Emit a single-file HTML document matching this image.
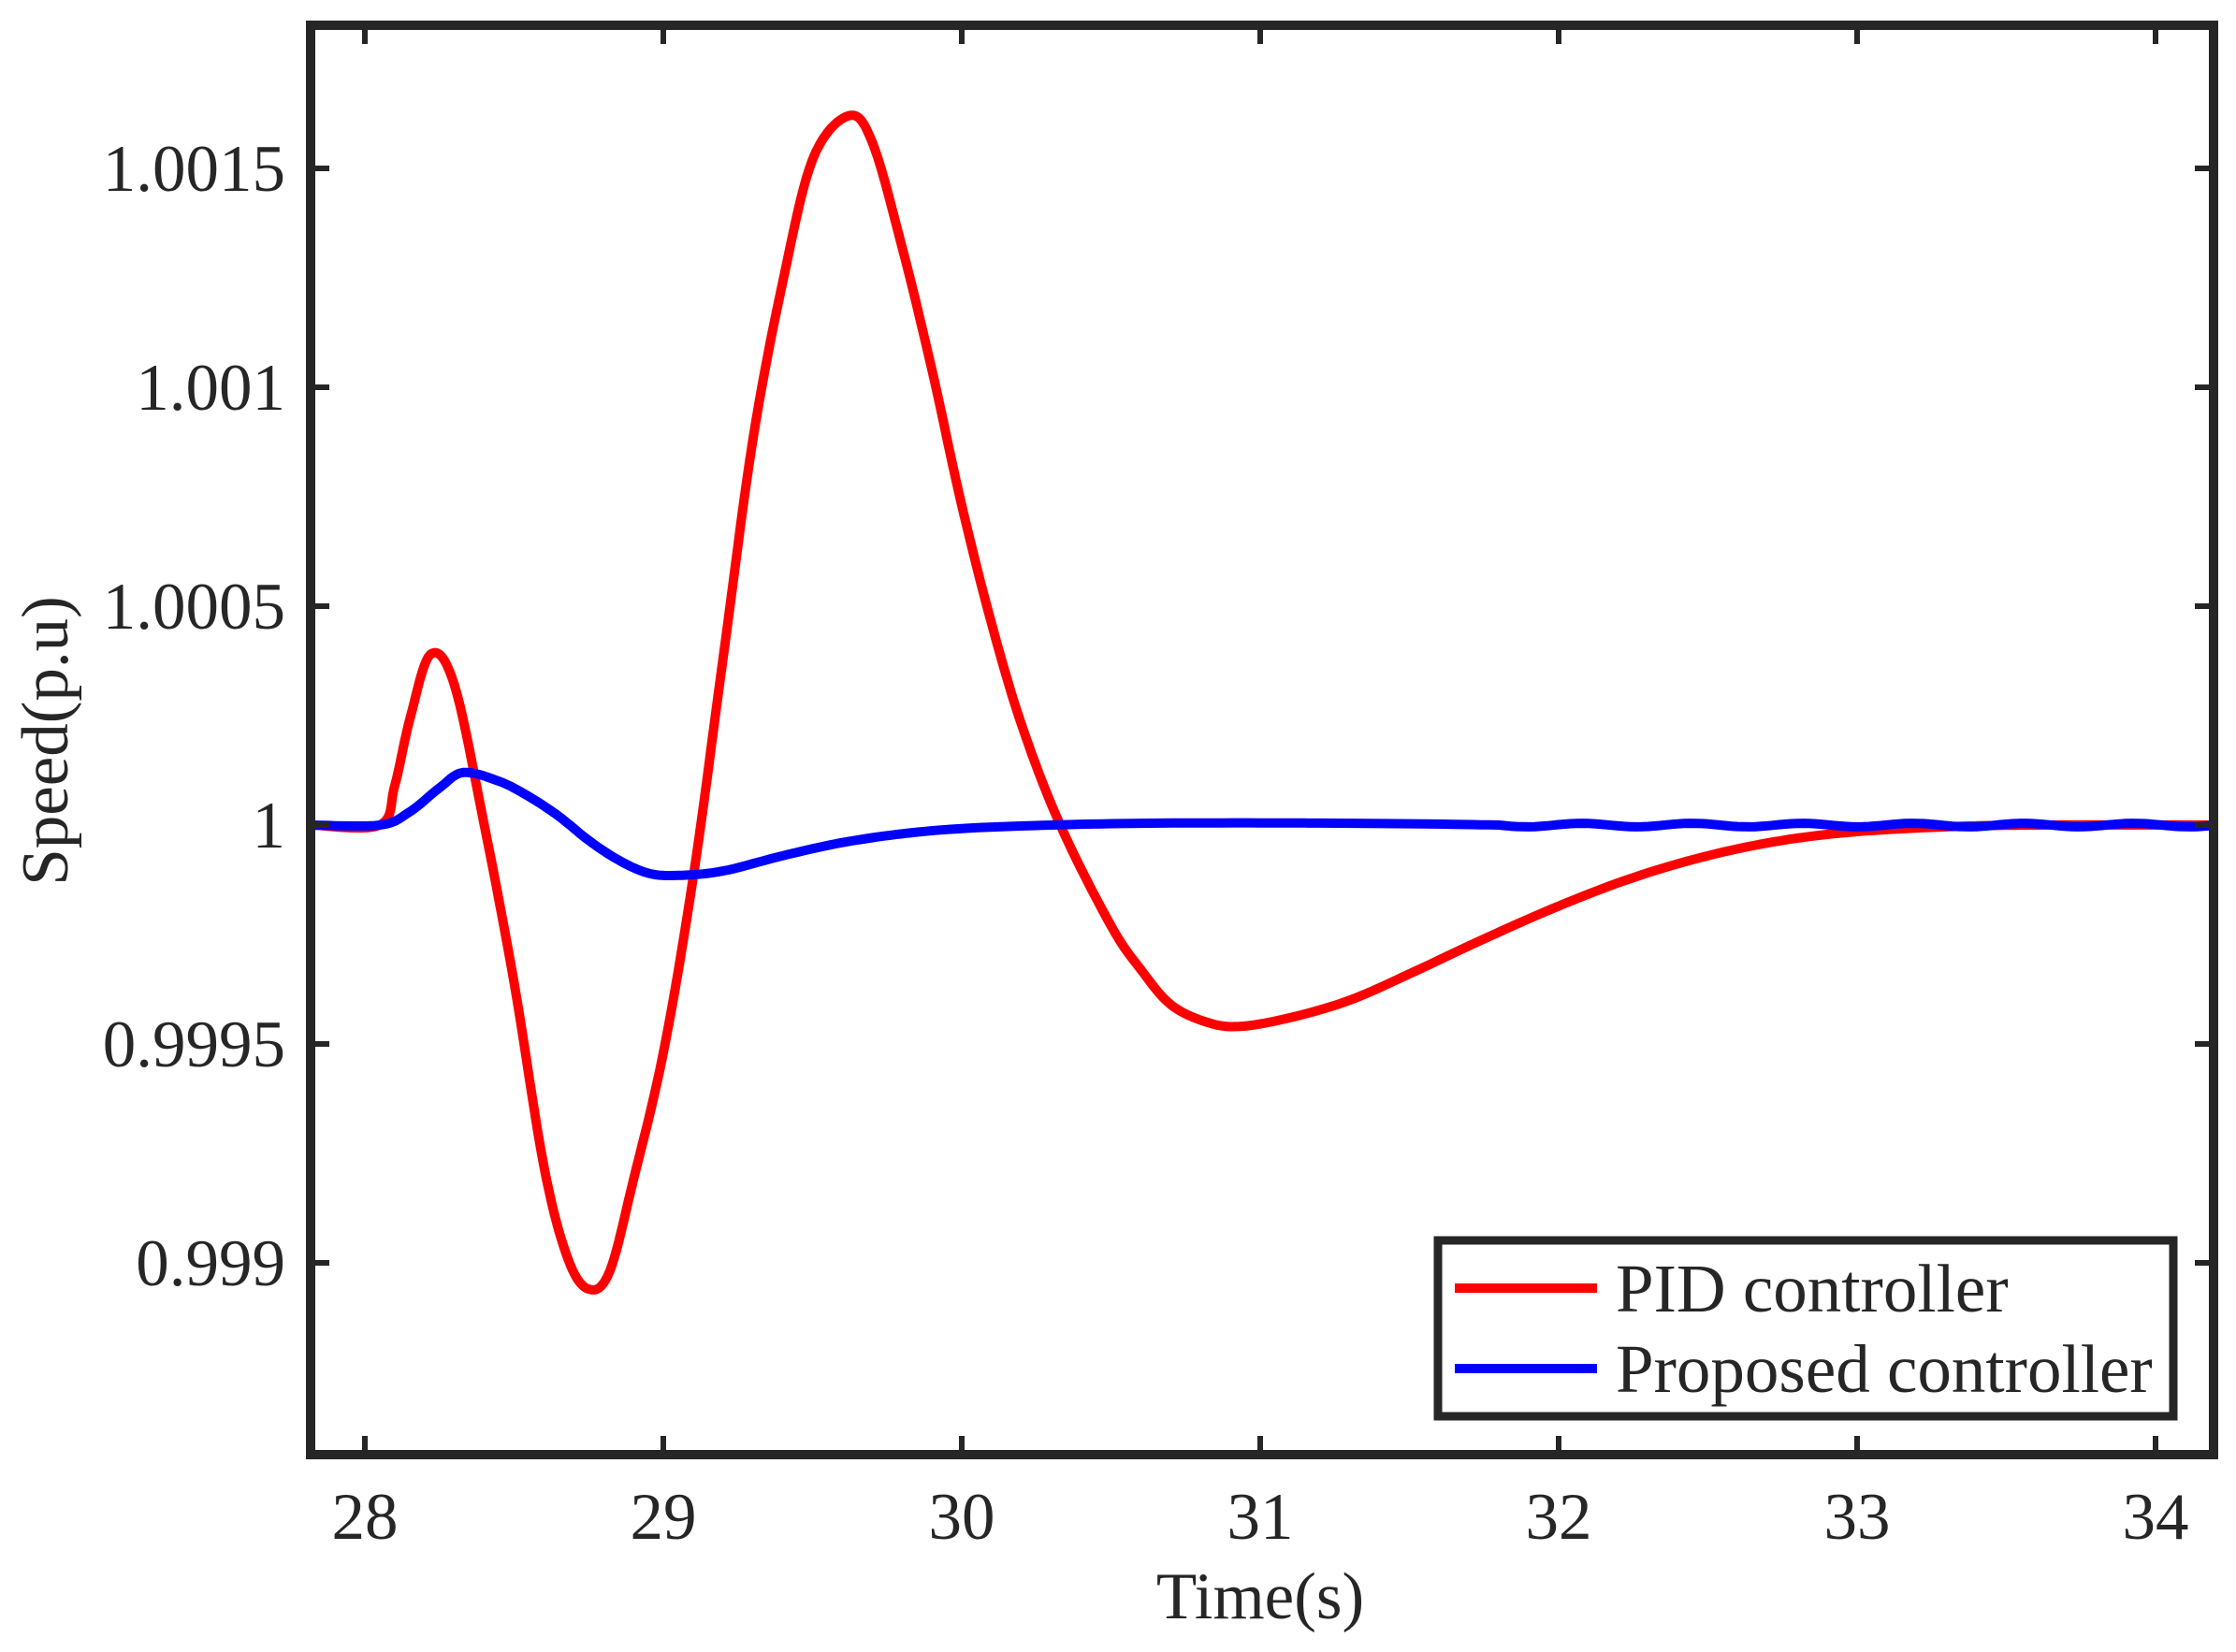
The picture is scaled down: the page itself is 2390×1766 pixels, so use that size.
<!DOCTYPE html>
<html><head><meta charset="utf-8"><style>
html,body{margin:0;padding:0;background:#fff;}
svg{display:block;}
text{font-family:"Liberation Serif",serif;fill:#262626;}
</style></head><body>
<svg id="s" width="2390" height="1766" viewBox="0 0 2390 1766" xmlns="http://www.w3.org/2000/svg">
<rect width="2390" height="1766" fill="#fff"/>
<g id="curves"></g>
<g stroke="#262626" stroke-width="6" fill="none">
<path d="M390,1555v-20M709,1555v-20M1028,1555v-20M1347,1555v-20M1666,1555v-20M1985,1555v-20M2304,1555v-20"/>
<path d="M390,27v20M709,27v20M1028,27v20M1347,27v20M1666,27v20M1985,27v20M2304,27v20"/>
<path d="M332,180h20M332,414h20M332,648h20M332,882h20M332,1116h20M332,1350h20"/>
<path d="M2366,180h-20M2366,414h-20M2366,648h-20M2366,882h-20M2366,1116h-20M2366,1350h-20"/>
</g>
<rect x="332" y="27" width="2034" height="1528" fill="none" stroke="#262626" stroke-width="10"/>
<g font-size="71" text-anchor="end">
<text x="305" y="204">1.0015</text>
<text x="305" y="438">1.001</text>
<text x="305" y="672">1.0005</text>
<text x="305" y="906">1</text>
<text x="305" y="1140">0.9995</text>
<text x="305" y="1374">0.999</text>
</g>
<g font-size="71" text-anchor="middle">
<text x="390" y="1645">28</text>
<text x="709" y="1645">29</text>
<text x="1028" y="1645">30</text>
<text x="1347" y="1645">31</text>
<text x="1666" y="1645">32</text>
<text x="1985" y="1645">33</text>
<text x="2304" y="1645">34</text>
<text x="1347" y="1730">Time(s)</text>
<text transform="translate(72,792) rotate(-90)">Speed(p.u)</text>
</g>
<rect x="1537" y="1326" width="786" height="188" fill="#fff" stroke="#262626" stroke-width="9"/>
<line x1="1555" y1="1377" x2="1707" y2="1377" stroke="#ff0000" stroke-width="10"/>
<line x1="1555" y1="1463" x2="1707" y2="1463" stroke="#0000ff" stroke-width="10"/>
<g font-size="73">
<text x="1727" y="1402">PID controller</text>
<text x="1727" y="1488">Proposed controller</text>
</g>
</svg>
<script>
function X(t){return 390+(t-28)*319;}
function Y(v){return 882-v*46.8;}
var red=[[27.82,0],[28.05,0],[28.1,0.9],[28.15,2.4],[28.22,3.9],[28.3,3.2],[28.4,0],[28.5,-3.6],[28.6,-7.8],[28.68,-9.9],[28.75,-10.6],[28.82,-10.2],[28.9,-8.1],[29.0,-5.2],[29.1,-1.2],[29.2,3.8],[29.3,8.8],[29.4,12.4],[29.5,15.2],[29.62,16.2],[29.7,15.6],[29.8,13.2],[29.9,10.4],[30.0,7.3],[30.1,4.6],[30.2,2.3],[30.33,0],[30.5,-2.3],[30.6,-3.3],[30.7,-4.1],[30.82,-4.5],[30.93,-4.6],[31.1,-4.4],[31.3,-4.0],[31.5,-3.4],[31.75,-2.6],[32.0,-1.85],[32.25,-1.2],[32.5,-0.7],[32.75,-0.35],[33.0,-0.15],[33.3,-0.04],[33.6,0],[34.19,0]];
var blue=[[27.82,0],[28.05,0],[28.15,0.3],[28.25,0.85],[28.33,1.2],[28.45,1.0],[28.55,0.65],[28.65,0.2],[28.75,-0.35],[28.85,-0.8],[28.95,-1.1],[29.05,-1.15],[29.2,-1.05],[29.4,-0.7],[29.6,-0.4],[29.8,-0.2],[30.0,-0.08],[30.3,0],[30.6,0.04],[31,0.05],[31.5,0.03],[31.8,0]];
function cr(p){var o=[];for(var i=0;i<p.length-1;i++){var a=p[Math.max(0,i-1)],b=p[i],c=p[i+1],d=p[Math.min(p.length-1,i+2)];for(var k=0;k<10;k++){var s=k/10,s2=s*s,s3=s2*s;function f(j){return 0.5*((2*b[j])+(-a[j]+c[j])*s+(2*a[j]-5*b[j]+4*c[j]-d[j])*s2+(-a[j]+3*b[j]-3*c[j]+d[j])*s3);}o.push([f(0),f(1)]);}}o.push(p[p.length-1]);return o;}
function path(pts){return pts.map(function(q,i){return (i?'L':'M')+X(q[0]).toFixed(1)+','+Y(q[1]).toFixed(1);}).join('');}
var bp=cr(blue);
for(var t=31.82;t<=34.19;t+=0.02){bp.push([t,-0.04*Math.sin((t-31.8)*2*Math.PI/0.37)]);}
var g=document.getElementById('curves');
g.innerHTML='<path d="'+path(cr(red))+'" fill="none" stroke="#ff0000" stroke-width="10" stroke-linejoin="round"/>'+
'<path d="'+path(bp)+'" fill="none" stroke="#0000ff" stroke-width="10" stroke-linejoin="round"/>';
</script>
</body></html>
